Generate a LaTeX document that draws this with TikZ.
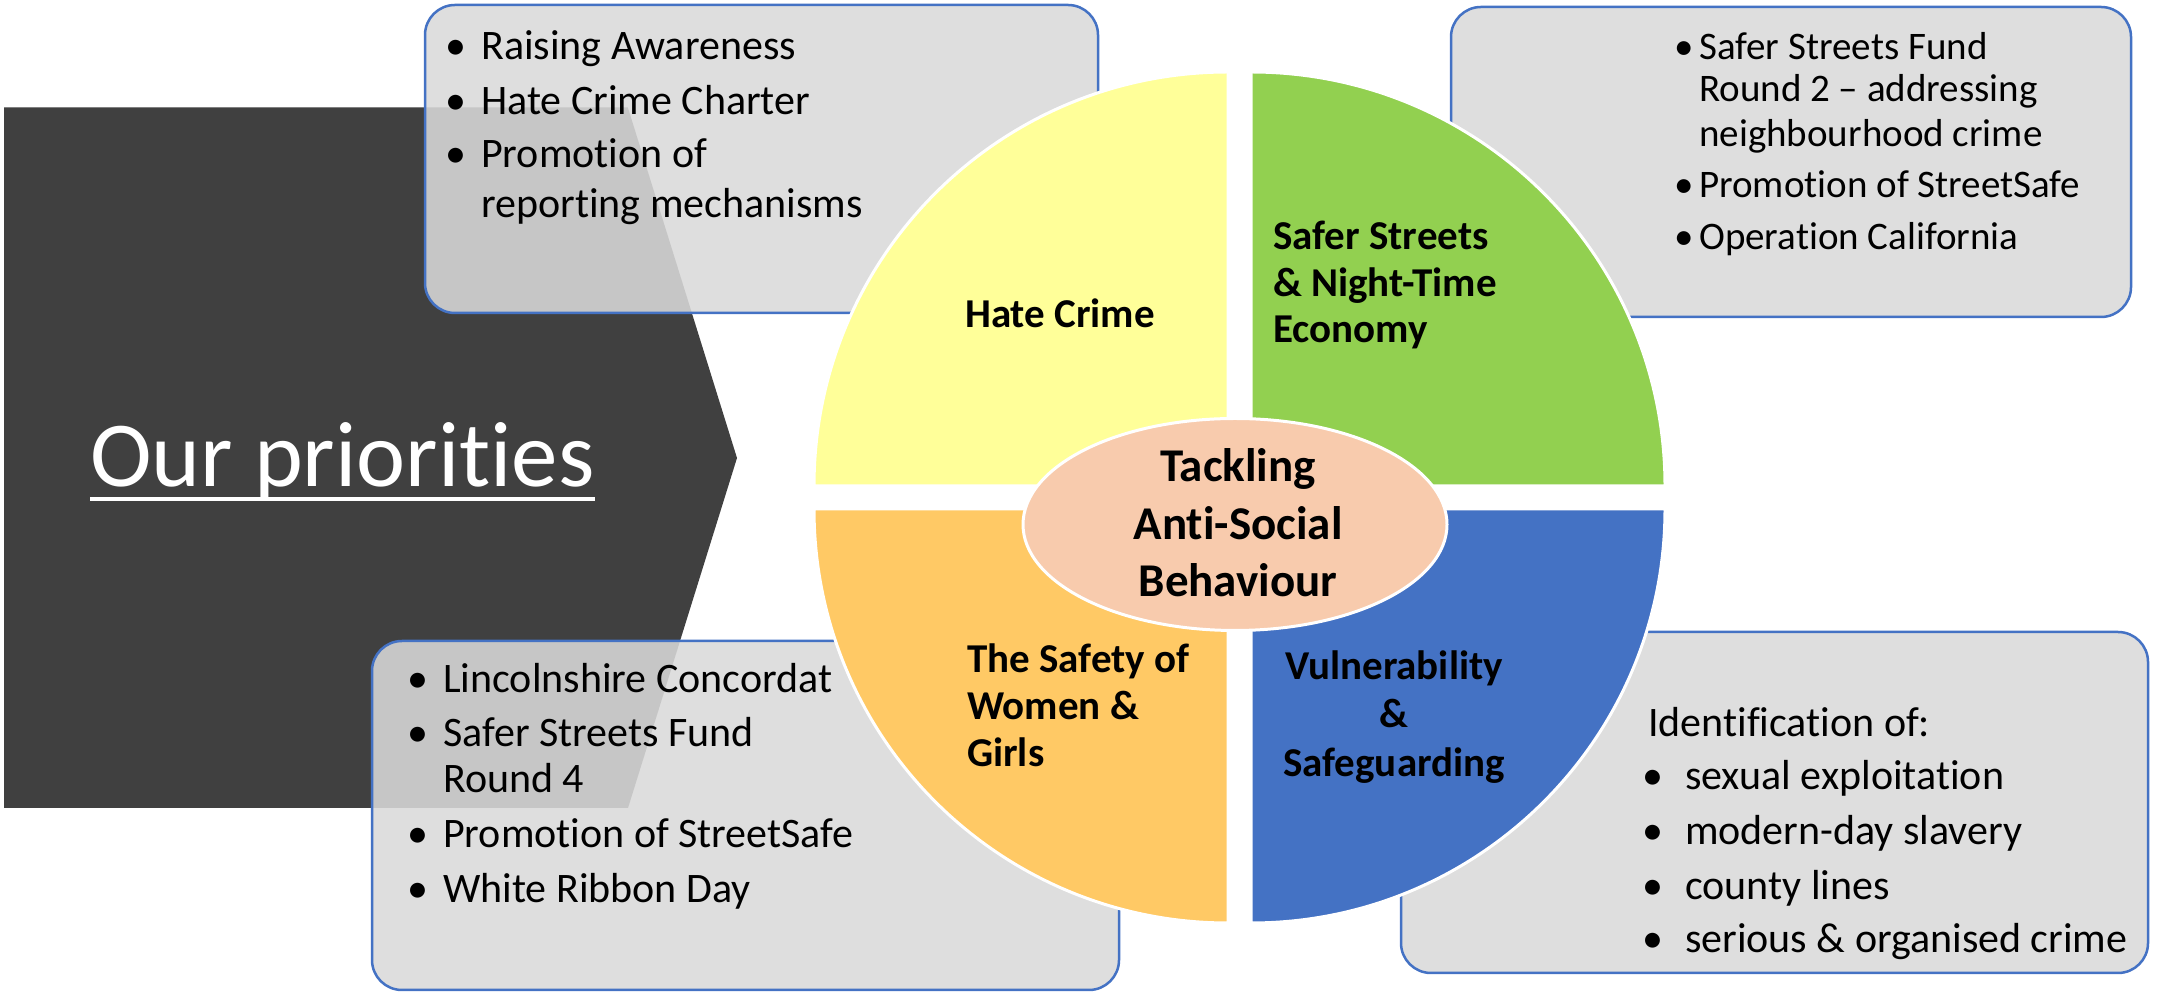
\documentclass[tikz,border=0pt]{standalone}
\usepackage{fontspec}
\setmainfont{Carlito}[Ligatures={NoCommon}]
\usetikzlibrary{shapes.geometric}
\definecolor{darkbg}{HTML}{404040}
\definecolor{boxfill}{HTML}{D9D9D9}
\definecolor{boxline}{HTML}{4472C4}
\definecolor{qyellow}{HTML}{FFFF99}
\definecolor{qgreen}{HTML}{92D050}
\definecolor{qorange}{HTML}{FFC965}
\definecolor{qblue}{HTML}{4472C4}
\definecolor{peach}{HTML}{F8CBAD}
\tikzset{
  infobox/.style={draw=boxline, line width=2.5pt, fill=boxfill, fill opacity=0.88, draw opacity=1, rounded corners=30pt},
  quad/.style={draw=white, line width=3pt},
  txt/.style={anchor=base west, inner sep=0pt, font=\fontsize{42}{50}\selectfont},
  txtsm/.style={anchor=base west, inner sep=0pt, font=\fontsize{39}{46}\selectfont},
  lbl/.style={inner sep=0pt, font=\fontsize{41}{48}\selectfont\bfseries},
  lblc/.style={inner sep=0pt, font=\fontsize{47}{56}\selectfont\bfseries, anchor=base},
}
\newcommand{\bul}[1]{\llap{•\hspace{#1}}}
\begin{document}
\begin{tikzpicture}[x=1pt,y=1pt]
\useasboundingbox (0,0) rectangle (2157,995);
% dark pentagon
\fill[darkbg] (4,887) -- (628,887) -- (737,537) -- (628,187) -- (4,187) -- cycle;
\draw[gray, line width=1pt] (4,887) -- (628,887);
\node[anchor=base west, inner sep=0pt, text=white, font=\fontsize{93}{110}\selectfont] (title) at (90,508) {Our priorities};
\draw[white, line width=4pt] ([yshift=-12pt]title.base west) -- ([yshift=-12pt]title.base east);
% boxes
\path[infobox] (425,682) rectangle (1098,990);
\path[infobox] (1451,678) rectangle (2131,988);
\path[infobox] (372,5) rectangle (1119,354);
\path[infobox] (1401,22) rectangle (2148,363);
% quadrants
\path[quad, fill=qyellow] (1228,509) -- ++(-414,0) arc[start angle=180, end angle=90, radius=414] -- cycle;
\path[quad, fill=qgreen] (1251,509) -- ++(0,414) arc[start angle=90, end angle=0, radius=414] -- cycle;
\path[quad, fill=qorange] (1228,486) -- ++(0,-414) arc[start angle=270, end angle=180, radius=414] -- cycle;
\path[quad, fill=qblue] (1251,486) -- ++(414,0) arc[start angle=0, end angle=-90, radius=414] -- cycle;
% centre ellipse
\node[ellipse, fill=peach, draw=white, line width=3pt, minimum width=424pt, minimum height=212pt, inner sep=0pt] (core) at (1235,470.5) {};
\node[lblc] (c1) at (1238,513) {Tackling};
\node[lblc] (c2) at (1238,455) {Anti-Social};
\node[lblc] (c3) at (1238,398) {Behaviour};
% quadrant labels
\node[lbl, anchor=base] (hc) at (1060,667) {Hate Crime};
\node[lbl, anchor=base west] (ss1) at (1273,745) {Safer Streets};
\node[lbl, anchor=base west] (ss2) at (1273,698) {\& Night-Time};
\node[lbl, anchor=base west] (ss3) at (1273,652) {Economy};
\node[lbl, anchor=base west] (sw1) at (967,322) {The Safety of};
\node[lbl, anchor=base west] (sw2) at (967,275) {Women \&};
\node[lbl, anchor=base west] (sw3) at (967,228) {Girls};
\node[lbl, anchor=base] (vs1) at (1394,315) {Vulnerability};
\node[lbl, anchor=base] (vs2) at (1394,267) {\&};
\node[lbl, anchor=base] (vs3) at (1394,218) {Safeguarding};
% top-left box text
\node[txt] (tl1) at (481,935) {\bul{15pt}Raising Awareness};
\node[txt] (tl2) at (481,880) {\bul{15pt}Hate Crime Charter};
\node[txt] (tl3) at (481,827) {\bul{15pt}Promotion of};
\node[txt] (tl4) at (481,777) {reporting mechanisms};
% top-right box text
\node[txtsm] (tr1) at (1699,935) {\bul{5pt}Safer Streets Fund};
\node[txtsm] (tr2) at (1699,893) {Round 2 – addressing};
\node[txtsm] (tr3) at (1699,848) {neighbourhood crime};
\node[txtsm] (tr4) at (1699,797) {\bul{5pt}Promotion of StreetSafe};
\node[txtsm] (tr5) at (1699,745) {\bul{5pt}Operation California};
% bottom-left box text
\node[txt] (bl1) at (443,302) {\bul{15pt}Lincolnshire Concordat};
\node[txt] (bl2) at (443,248) {\bul{15pt}Safer Streets Fund};
\node[txt] (bl3) at (443,202) {Round 4};
\node[txt] (bl4) at (443,147) {\bul{15pt}Promotion of StreetSafe};
\node[txt] (bl5) at (443,92) {\bul{15pt}White Ribbon Day};
% bottom-right box text
\node[txt] (br0) at (1648,258) {Identification of:};
\node[txt] (br1) at (1685,205) {\bul{22pt}sexual exploitation};
\node[txt] (br2) at (1685,150) {\bul{22pt}modern-day slavery};
\node[txt] (br3) at (1685,95) {\bul{22pt}county lines};
\node[txt] (br4) at (1685,42) {\bul{22pt}serious \& organised crime};
\end{tikzpicture}
\end{document}
